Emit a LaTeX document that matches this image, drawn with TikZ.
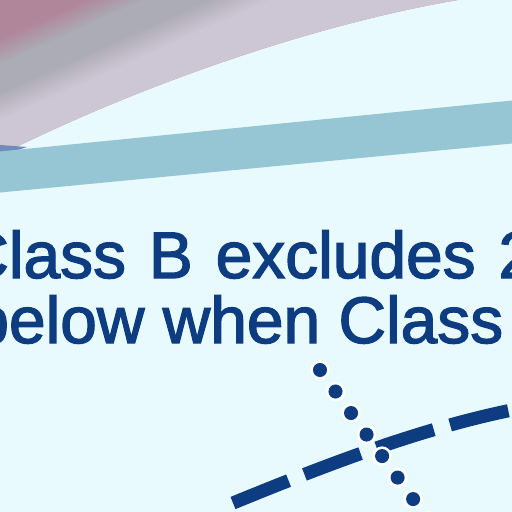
\documentclass[tikz,border=0pt]{standalone}
\usepackage{fontspec}
\setmainfont{Liberation Sans}
\newfontfamily\capfont{Liberation Sans}[FakeBold=2]
\usetikzlibrary{calc}
\definecolor{PageBg}{RGB}{232,250,253}
\definecolor{BandTeal}{RGB}{150,198,212}
\definecolor{ArcMauve}{RGB}{176,134,154}
\definecolor{ArcGrey}{RGB}{172,172,182}
\definecolor{ArcLilac}{RGB}{205,198,212}
\definecolor{ArcBlue}{RGB}{112,140,186}
\definecolor{InkBlue}{RGB}{14,60,128}

\begin{document}
\begin{tikzpicture}[
  x=0.02cm, y=-0.02cm,
  caption/.style={font=\capfont\fontsize{37.5}{37.5}\selectfont, text=InkBlue, inner sep=0pt, anchor=base west},
  dashcurve/.style={InkBlue, line width=7.5pt, dash pattern=on 34.1pt off 9.7pt},
  dotrow/.style={line cap=round, dash pattern=on 0pt off 15.1pt},
]
  % page
  \fill[PageBg] (0,0) rectangle (512,512);
  \useasboundingbox (0,0) rectangle (512,512);
  \clip (0,0) rectangle (512,512);

  % curved shape at the top
  \begin{scope}
    \clip (-10,-10) -- (-10,155) -- (0,155) .. controls (150,80) and (330,20) .. (470,-2) -- (480,-10) -- cycle;
    \fill[ArcMauve] (-10,-10) rectangle (520,220);
    \begin{scope}[shift={(90,40)}, rotate=24]
      \foreach \d in {-42,-39,...,36} {
        \pgfmathsetmacro\mixA{min(100,max(0,(-\d-15)/25*100))}
        \pgfmathsetmacro\mixC{min(100,max(0,100-(\d-10)/25*100))}
        \fill[ArcMauve!\mixA!ArcGrey!\mixC!ArcLilac] (-400,\d) rectangle (600,\d+3.3);
      }
      \fill[ArcLilac] (-400,39) rectangle (600,300);
    \end{scope}
  \end{scope}
  \fill[ArcBlue] (0,145) -- (27,147) -- (0,156) -- cycle;

  % teal band
  \fill[BandTeal] (-5,152) -- (517,100) -- (517,143) -- (-5,193) -- cycle;

  % text (first line is set justified, so wider spaces)
  \node[caption] (lineone) at (-39,278) {\spaceskip=13pt Class B excludes 2};
  \node[caption] (linetwo) at (-28,343) {below when Class};

  % dashed curve
  \coordinate (dashStart) at (233,503);
  \coordinate (dashEnd) at (512,410);
  \draw[dashcurve] (dashStart) .. controls (326,465) and (419,429) .. (dashEnd) -- ++(60,-12);

  % dotted line
  \coordinate (dotsTop) at (320,370);
  \coordinate (dotsEnd) at ($(dotsTop)+8*(15.55,21.55)$);
  \draw[dotrow, white, line width=11pt] (dotsTop) -- (dotsEnd);
  \draw[dotrow, InkBlue, line width=8pt] (dotsTop) -- (dotsEnd);
\end{tikzpicture}
\end{document}
